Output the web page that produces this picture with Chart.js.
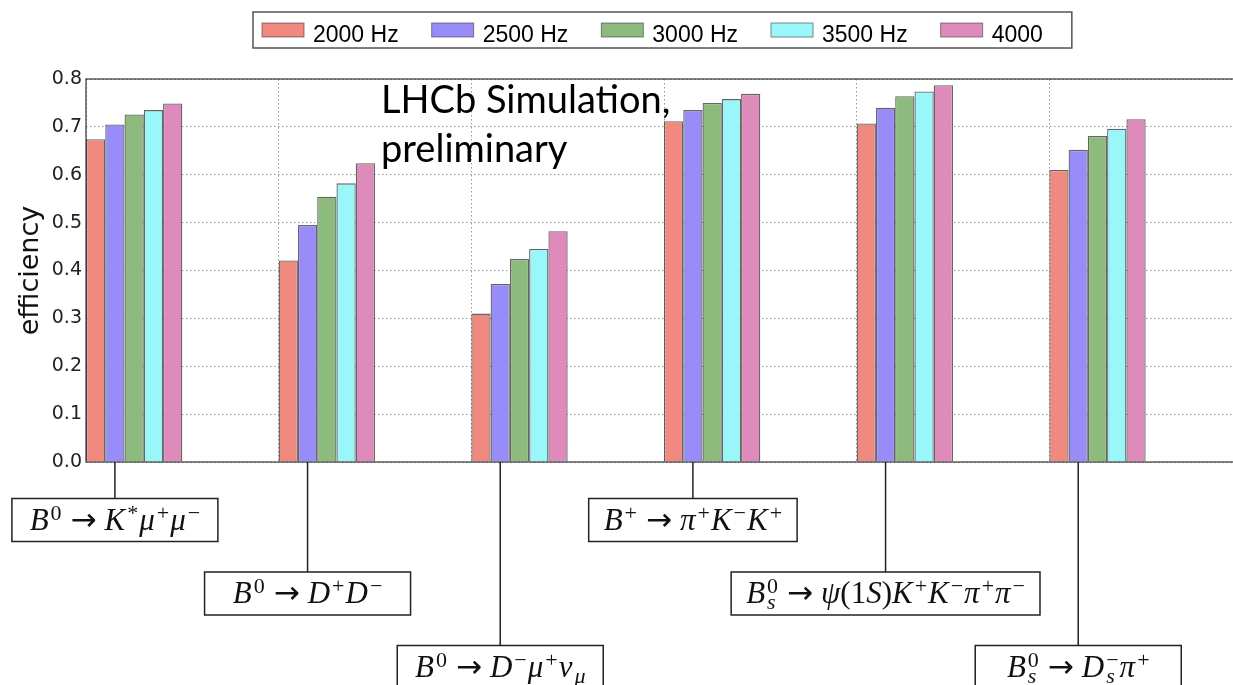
<!DOCTYPE html>
<html>
<head>
<meta charset="utf-8">
<script src="https://cdn.jsdelivr.net/npm/chart.js@4.4.0/dist/chart.umd.min.js"></script>
<style>
  html, body { margin: 0; padding: 0; background: #fff; overflow: hidden; }
  /* plot runs a little past the right edge of the window, as in the picture */
  #wrap { position: relative; width: 1242px; height: 685px; }
</style>
</head>
<body>
<div id="wrap"><canvas id="chart"></canvas></div>
<script>
// Decay channels, one group of bars each (^ = superscript, _ = subscript)
const channels = [
  'B^0 → K^*μ^+μ^−',
  'B^0 → D^+D^−',
  'B^0 → D^−μ^+ν_μ',
  'B^+ → π^+K^−K^+',
  'B_s^0 → ψ(1S)K^+K^−π^+π^−',
  'B_s^0 → D_s^−π^+',
];

const seriesLabels = ['2000 Hz', '2500 Hz', '3000 Hz', '3500 Hz', '4000'];

// efficiency per channel, one array per rate
const eff2000 = [0.674, 0.421, 0.310, 0.712, 0.707, 0.610];
const eff2500 = [0.705, 0.495, 0.372, 0.735, 0.740, 0.652];
const eff3000 = [0.726, 0.554, 0.424, 0.750, 0.764, 0.681];
const eff3500 = [0.735, 0.582, 0.445, 0.758, 0.774, 0.696];
const eff4000 = [0.749, 0.624, 0.482, 0.769, 0.787, 0.716];

const yMin = 0.0;
const yMax = 0.8;
const yStep = 0.1;

const fillColors = ['#f08a80', '#978cf8', '#8dba7d', '#9af7f9', '#de8abb'];
const edgeColor = 'rgba(50,50,50,0.75)';
const gridColor = 'rgba(0,0,0,0.4)';

const allSeries = [eff2000, eff2500, eff3000, eff3500, eff4000];

// bars are edge aligned: each group starts at the grid line of its channel
const datasets = allSeries.map((vals, k) => ({
  label: seriesLabels[k],
  data: vals.map((v, i) => ({ x: i + 0.25, y: v })),
  backgroundColor: fillColors[k],
  borderColor: edgeColor,
  borderWidth: 1.3,
  categoryPercentage: 0.5,
  barPercentage: 1.0,
}));

// split a label into characters, marking super/subscripts
function mathTokens(src) {
  const out = [];
  let i = 0;
  while (i < src.length) {
    const c = src[i];
    if (c === '^' || c === '_') {
      out.push({ t: src[i + 1], pos: c === '^' ? 'sup' : 'sub' });
      i += 2;
    } else {
      out.push({ t: c, pos: 'base' });
      i += 1;
    }
  }
  return out;
}

const mathSize = 31;
const scriptSize = 22;

function mathFont(ch, size) {
  if (ch === '→') return size + 'px "DejaVu Sans", sans-serif';
  const italic = /[A-Za-z\u0370-\u03ff]/.test(ch);
  return (italic ? 'italic ' : '') + size + 'px "Liberation Serif", "DejaVu Serif", serif';
}

// lay out (and optionally draw) one math label, returns its width
function layoutMath(ctx, src, x0, baseline, draw) {
  const toks = mathTokens(src);
  let x = x0;
  let scriptX = null;
  let scriptW = 0;
  let lastScript = null;
  toks.forEach((tok) => {
    if (tok.pos === 'base') {
      if (scriptX !== null) { x = scriptX + scriptW + 1; scriptX = null; scriptW = 0; lastScript = null; }
      if (tok.t === ' ') { x += 8; return; }
      ctx.font = mathFont(tok.t, mathSize);
      const w = ctx.measureText(tok.t).width;
      if (draw) ctx.fillText(tok.t, x, baseline);
      x += w;
    } else {
      if (scriptX === null || lastScript === tok.pos) {
        if (scriptX !== null) { x = scriptX + scriptW; scriptW = 0; }
        scriptX = x + 2;
      }
      ctx.font = mathFont(tok.t, scriptSize);
      const w = ctx.measureText(tok.t).width;
      const dy = tok.pos === 'sup' ? -10 : 6;
      if (draw) ctx.fillText(tok.t, scriptX, baseline + dy);
      scriptW = Math.max(scriptW, w);
      lastScript = tok.pos;
    }
  });
  if (scriptX !== null) x = scriptX + scriptW;
  return x - x0;
}

const spinesPlugin = {
  id: 'spines',
  afterDatasetsDraw(chart) {
    const { ctx, chartArea: a } = chart;
    ctx.save();
    ctx.strokeStyle = 'rgba(40,40,40,0.75)';
    ctx.lineWidth = 1.5;
    ctx.beginPath();
    ctx.moveTo(a.right, a.top);
    ctx.lineTo(a.left, a.top);
    ctx.lineTo(a.left, a.bottom);
    ctx.lineTo(a.right, a.bottom);
    ctx.stroke();
    ctx.restore();
  },
};

// staggered boxed channel names hanging off the axis
const channelBoxesPlugin = {
  id: 'channelBoxes',
  afterDraw(chart) {
    const { ctx, chartArea: a } = chart;
    const meta = chart.getDatasetMeta(1);
    const boxH = 43;
    const pad = 15;
    const minW = 206;
    ctx.save();
    channels.forEach((name, i) => {
      const cx = meta.data[i].x;
      const top = a.bottom + 36.5 + (i % 3) * 73.5;
      const tw = layoutMath(ctx, name, 0, 0, false);
      const w = Math.max(minW, tw + 2 * pad);
      ctx.strokeStyle = '#222';
      ctx.lineWidth = 1.5;
      ctx.beginPath();
      ctx.moveTo(cx, a.bottom);
      ctx.lineTo(cx, top);
      ctx.stroke();
      ctx.fillStyle = '#fff';
      ctx.fillRect(cx - w / 2, top, w, boxH);
      ctx.strokeRect(cx - w / 2, top, w, boxH);
      ctx.fillStyle = '#111';
      ctx.textBaseline = 'alphabetic';
      layoutMath(ctx, name, cx - tw / 2, top + 31, true);
    });
    ctx.restore();
  },
};

// legend in a framed row, plus the simulation note
const legendNotePlugin = {
  id: 'legendNote',
  afterDraw(chart) {
    const { ctx, chartArea: a } = chart;
    ctx.save();
    ctx.font = '23px "Liberation Sans", Arial, sans-serif';
    ctx.textBaseline = 'alphabetic';
    let x = 262;
    const startX = x;
    const n = chart.data.datasets.length;
    chart.data.datasets.forEach((ds, k) => {
      ctx.fillStyle = ds.backgroundColor;
      ctx.fillRect(x, 23, 42, 14);
      ctx.strokeStyle = 'rgba(60,60,60,0.6)';
      ctx.lineWidth = 1;
      ctx.strokeRect(x, 23, 42, 14);
      ctx.fillStyle = '#000';
      ctx.fillText(ds.label, x + 51, 42);
      const tw = ctx.measureText(ds.label).width;
      x += 51 + tw + (k < n - 1 ? 33 : 0);
    });
    ctx.strokeStyle = 'rgba(40,40,40,0.8)';
    ctx.lineWidth = 1.5;
    ctx.strokeRect(startX - 9, 12, x - startX + 9 + 29, 36);

    ctx.fillStyle = '#000';
    ctx.font = '38px Lato, "Open Sans", sans-serif';
    ctx.fillText('LHCb Simulation,', a.left + 295, a.top + 34);
    ctx.fillText('preliminary', a.left + 295, a.top + 83);
    ctx.restore();
  },
};

new Chart(document.getElementById('chart'), {
  type: 'bar',
  data: { datasets },
  options: {
    responsive: true,
    maintainAspectRatio: false,
    animation: false,
    layout: { padding: { top: 79, left: 0, right: 0, bottom: 0 } },
    plugins: {
      legend: { display: false },
      tooltip: { enabled: false },
    },
    scales: {
      x: {
        type: 'linear',
        min: 0,
        max: channels.length,
        offset: false,
        ticks: { display: false, stepSize: 1 },
        grid: { offset: false, drawTicks: false, color: gridColor, lineWidth: 1 },
        border: { display: false, dash: [1.5, 2.5] },
        afterFit: (s) => { s.height = 223; },
      },
      y: {
        min: yMin,
        max: yMax,
        ticks: {
          stepSize: yStep,
          padding: 4,
          color: '#222',
          font: { family: 'DejaVu Sans', size: 19 },
          callback: (v) => Number(v).toFixed(1),
        },
        grid: { drawTicks: false, color: gridColor, lineWidth: 1 },
        border: { display: false, dash: [1.5, 2.5] },
        title: {
          display: true,
          text: 'efficiency',
          color: '#111',
          font: { family: 'DejaVu Sans', size: 27 },
          padding: { top: 15, bottom: 0 },
        },
        afterFit: (s) => { s.width = 86; },
      },
    },
  },
  plugins: [spinesPlugin, channelBoxesPlugin, legendNotePlugin],
});
</script>
</body>
</html>
